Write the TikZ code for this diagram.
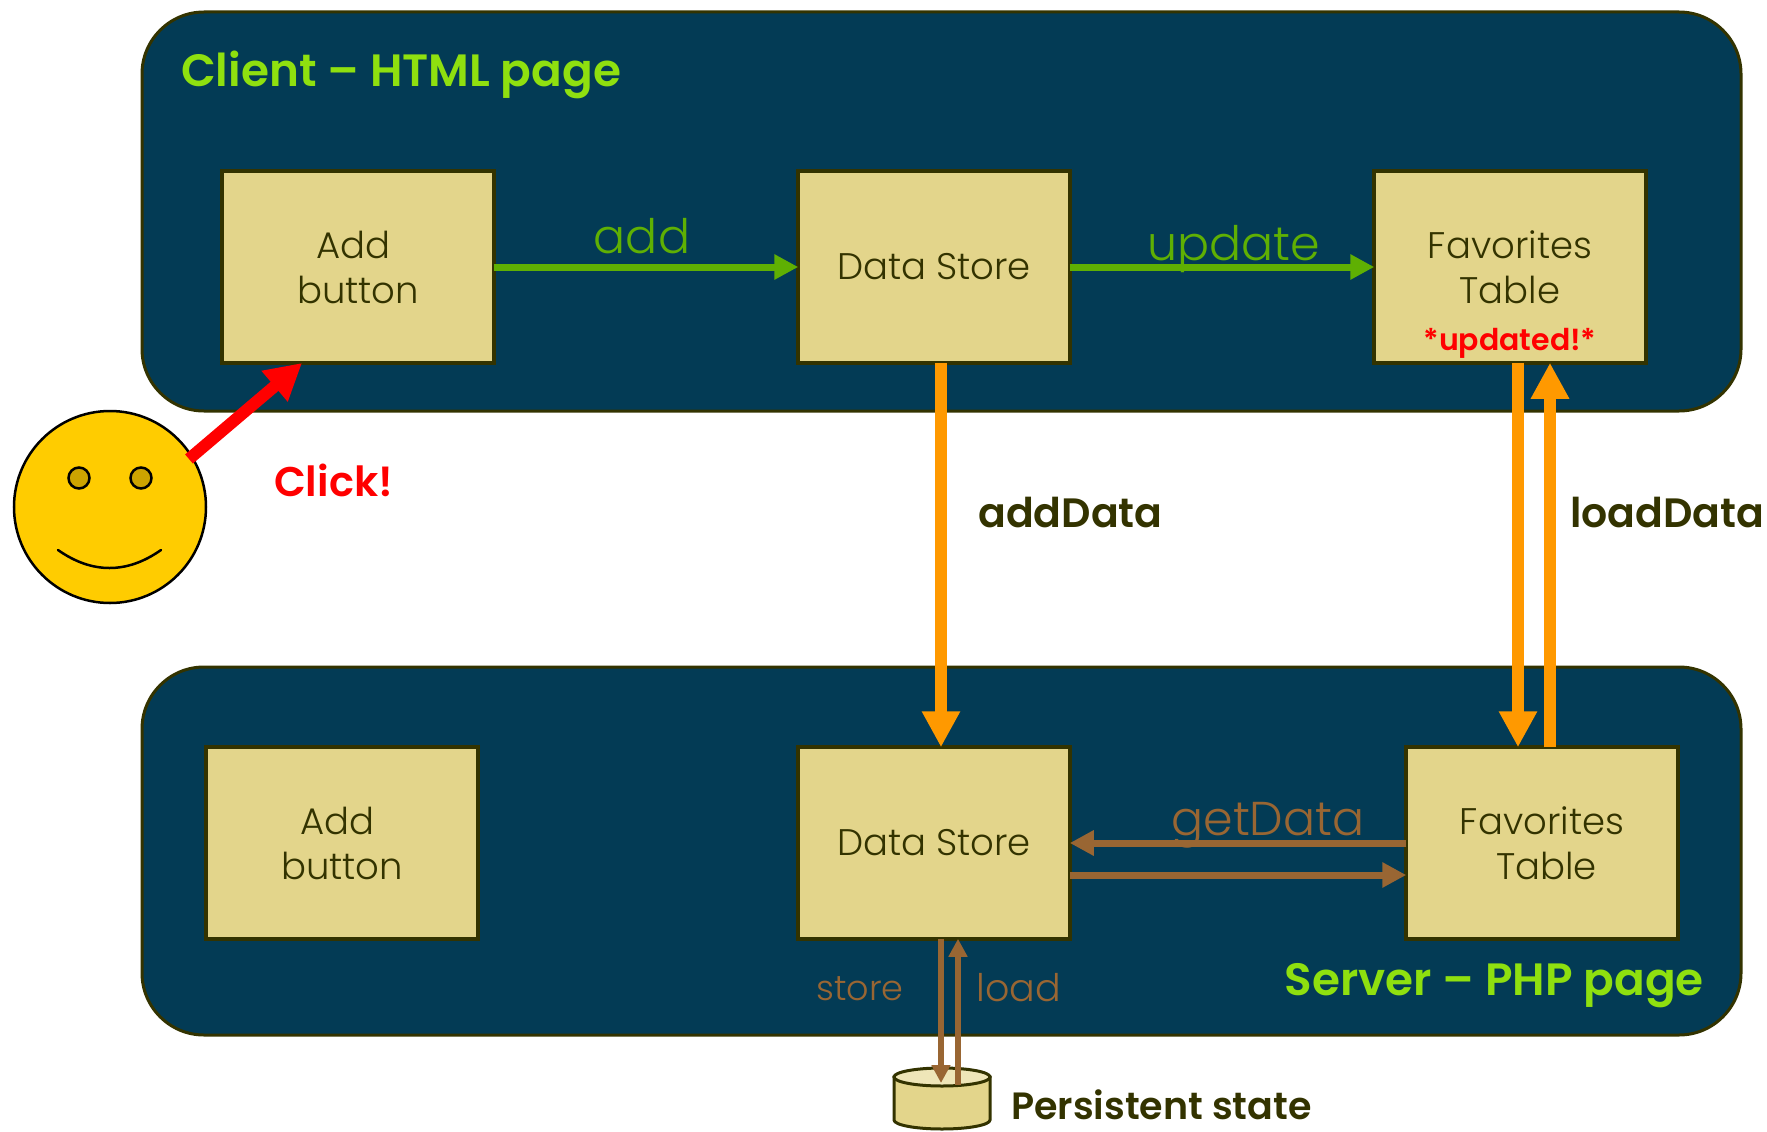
\documentclass[tikz,border=0pt]{standalone}
\usepackage{fontspec}
\setmainfont{Poppins Light}[BoldFont=Poppins SemiBold]
\usetikzlibrary{arrows.meta}
\definecolor{panelblue}{HTML}{033B55}
\definecolor{boxtan}{HTML}{E3D58B}
\definecolor{toptan}{HTML}{EFE6B8}
\definecolor{olive}{HTML}{333300}
\definecolor{lime}{HTML}{8FE00F}
\definecolor{leaf}{HTML}{5FB003}
\definecolor{amber}{HTML}{FF9900}
\definecolor{bark}{HTML}{996633}
\definecolor{smile}{HTML}{FFCC00}
\definecolor{eyegold}{HTML}{CCA300}
\newcommand{\fsize}[1]{\fontsize{#1}{#1}\selectfont}
\begin{document}
\begin{tikzpicture}[x=1pt,y=-1pt,
      panel/.style = {draw=olive, line width=3pt, fill=panelblue, rounded corners=62pt},
      comp/.style = {draw=olive, line width=3.5pt, fill=boxtan, minimum width=272pt,
        minimum height=192pt, align=center, text=olive, font=\fsize{37}, inner sep=0pt},
      title/.style = {text=lime, font=\fsize{45.3}\bfseries, inner sep=0pt},
      call/.style = {font=\fsize{47.5}, inner sep=0pt},
      note/.style = {text=olive, font=\fsize{41}\bfseries, inner sep=0pt},
      greenarrow/.style = {draw=leaf, line width=7pt, shorten >=-2pt, shorten <=-2pt, -{Triangle[length=24pt,width=24pt]}},
      fatarrow/.style = {draw=amber, line width=12pt, shorten >=-2pt, shorten <=-2pt, -{Triangle[length=36pt,width=36pt]}},
      brownarrow/.style = {draw=bark, line width=7pt, shorten >=-2pt, shorten <=-2pt, -{Triangle[length=24pt,width=24pt]}},
      thinarrow/.style = {draw=bark, line width=6pt, shorten >=-2pt, shorten <=-2pt, -{Triangle[length=18pt,width=18pt]}}]
      \useasboundingbox (0,0) rectangle (1767,1132);
      \node[panel, minimum width=1599pt, minimum height=399pt] (client) at (941.5,211.5) {};
      \node[panel, minimum width=1599pt, minimum height=368pt] (server) at (941.5,851) {};
      \node[title, anchor=west] (clienttitle) at (181,75) {Client – HTML page};
      \node[title, anchor=east] (servertitle) at (1704,986) {Server – PHP page};

      \node[comp] (add1) at (358,267) {Add\kern9pt\\[8pt]button};
      \node[comp] (store1) at (934,267) {Data Store};
      \node[comp] (table1) at (1510,267) {Favorites\\[8pt]Table};
      \node[text=red, font=\fsize{30}\bfseries, inner sep=0pt] (updated) at (1510,343) {*updated!*};
      \node[comp] (add2) at (342,843) {Add\kern9pt\\[8pt]button};
      \node[comp] (store2) at (934,843) {Data Store};
      \node[comp] (table2) at (1542,843) {Favorites\\[8pt]\kern9pt Table};

      \draw[greenarrow] (add1) -- (store1);
      \draw[greenarrow] (store1) -- (table1);
      \node[call, text=leaf] (addlabel) at (642,236) {add};
      \node[call, text=leaf] (updatelabel) at (1234,249) {update};

      \draw[fatarrow] ([xshift=7pt]store1.south) -- ([xshift=7pt]store2.north);
      \draw[fatarrow] ([xshift=8pt]table1.south) -- ([xshift=-24pt]table2.north);
      \draw[fatarrow] ([xshift=8pt]table2.north) -- ([xshift=40pt]table1.south);
      \node[note, anchor=west] (adddata) at (978,513) {addData};
      \node[note, anchor=west] (loaddata) at (1570,513) {loadData};

      \draw[brownarrow] (table2.west) -- (store2.east);
      \draw[brownarrow] ([yshift=-32pt]store2.east) -- ([yshift=-32pt]table2.west);
      \node[call, text=bark] (getdata) at (1268,825) {getData};

      % the user
      \node[circle, draw=black, line width=2.5pt, fill=smile, minimum size=192pt, inner sep=0pt] (face) at (110,507) {};
      \node[circle, draw=black, line width=2.5pt, fill=eyegold, minimum size=21pt, inner sep=0pt] (eyeleft) at (79,478) {};
      \node[circle, draw=black, line width=2.5pt, fill=eyegold, minimum size=21pt, inner sep=0pt] (eyeright) at (141,478) {};
      \coordinate (mouthleft) at (58,550);
      \coordinate (mouthright) at (161,550);
      \draw[black, line width=2.5pt, line cap=round] (mouthleft) .. controls (92,574) and (127,574) .. (mouthright);
      \coordinate (clickfrom) at (189,459);
      \coordinate (clickto) at (302,363);
      \draw[draw=red, line width=12pt, -{Triangle[length=36pt,width=38pt]}] (clickfrom) -- (clickto);
      \node[text=red, font=\fsize{41.5}\bfseries, inner sep=0pt] (clicklabel) at (333.5,480) {Click!};

      % persistent state
      \draw[draw=olive, line width=3pt, fill=boxtan] (894,1077) -- (894,1120)
        arc[start angle=180, end angle=360, x radius=48pt, y radius=9pt] -- (990,1077) -- cycle;
      \draw[draw=olive, line width=3pt, fill=toptan] (942,1077) ellipse [x radius=48pt, y radius=9pt];
      \coordinate (diskin) at (941,1081);
      \coordinate (diskout) at (958,1083);
      \draw[thinarrow] ([xshift=7pt]store2.south) -- (diskin);
      \draw[thinarrow] (diskout) -- ([xshift=24pt]store2.south);
      \node[call, text=bark, font=\fsize{35}] (storelabel) at (860,989) {store};
      \node[call, text=bark, font=\fsize{38}] (loadlabel) at (1019,988) {load};
      \node[note, anchor=west, font=\fsize{38}\bfseries] (disklabel) at (1011,1105) {Persistent state};
  \end{tikzpicture}
\end{document}
